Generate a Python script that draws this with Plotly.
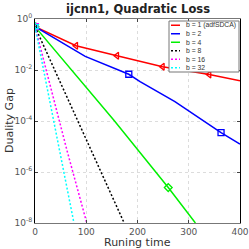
import plotly.graph_objects as go

# ---- data (x = running time, y = duality gap) ----
x_b1 = [0, 80, 160, 249, 340, 400]
y_b1 = [0.5, 0.089, 0.036, 0.0135, 0.0066, 0.0038]
m_b1 = [1, 1, 1, 1, 1, 0]

x_b2 = [0, 49, 98, 183, 205, 273, 363, 400]
y_b2 = [0.5, 0.13, 0.034, 0.0068, 0.0035, 5.8e-4, 3.5e-5, 1.25e-5]
m_b2 = [1, 0, 0, 1, 0, 0, 1, 0]

x_b4 = [0, 154, 260, 313]
y_b4 = [0.5, 1.07e-4, 2.45e-7, 1e-8]
m_b4 = [1, 0, 1, 0]

x_b8 = [0, 109, 174]
y_b8 = [0.5, 7.5e-6, 1e-8]
m_b8 = [1, 0, 0]

x_b16 = [0, 62, 101]
y_b16 = [0.5, 7.5e-6, 1e-8]
m_b16 = [1, 0, 0]

x_b32 = [0, 47, 76]
y_b32 = [0.5, 7.5e-6, 1e-8]
m_b32 = [1, 0, 0]

names = ["b = 1 (adfSDCA)", "b = 2", "b = 4", "b = 8", "b = 16", "b = 32"]
x_ticks = [0, 100, 200, 300, 400]
y_tickvals = [1, 1e-2, 1e-4, 1e-6, 1e-8]
y_ticktext = ["10<sup>0</sup>", "10<sup>-2</sup>", "10<sup>-4</sup>", "10<sup>-6</sup>", "10<sup>-8</sup>"]

colors = ["#ff0000", "#0000ff", "#00f000", "#000000", "#ff00ff", "#00ffff"]
symbols = ["triangle-left-open", "square-open", "diamond-open",
           "triangle-left-open", "square-open", "hexagram-open"]
dashes = ["solid", "solid", "solid", "2px,2px", "2px,2px", "2px,2px"]
series = [(x_b1, y_b1, m_b1), (x_b2, y_b2, m_b2), (x_b4, y_b4, m_b4),
          (x_b8, y_b8, m_b8), (x_b16, y_b16, m_b16), (x_b32, y_b32, m_b32)]

# ---- layout constants (pixels) ----
W, H = 249, 249
ML, MR, MT, MB = 35, 9, 19, 26
PW, PH = W - ML - MR, H - MT - MB


def px_x(p):
    return (p - ML) / PW


def px_y(p):
    return (H - MB - p) / PH


fig = go.Figure()
for (xs, ys, ms), nm, col, sym, dash in zip(series, names, colors, symbols, dashes):
    mcols = [col if m else "rgba(0,0,0,0)" for m in ms]
    fig.add_trace(go.Scatter(
        x=xs, y=ys, name=nm, mode="lines+markers", showlegend=False,
        line=dict(color=col, width=1.5, dash=dash),
        marker=dict(symbol=sym, size=6, color=mcols, line=dict(width=1.3)),
    ))

# ---- custom compact legend (box, line samples, glyphs, labels) ----
LX0, LX1, LY0, LY1 = 169, 239, 21, 72
row_h = (LY1 - LY0) / len(names)
shapes = [dict(type="rect", xref="paper", yref="paper",
               x0=px_x(LX0), x1=px_x(LX1), y0=px_y(LY1), y1=px_y(LY0),
               fillcolor="white", line=dict(color="#777", width=1), layer="above")]
annotations = []
leg_mx, leg_my = [], []
for i, (nm, col, dash) in enumerate(zip(names, colors, dashes)):
    yc = LY0 + row_h * (i + 0.5)
    shapes.append(dict(type="line", xref="paper", yref="paper",
                       x0=px_x(171), x1=px_x(180), y0=px_y(yc), y1=px_y(yc),
                       line=dict(color=col, width=1.5, dash=dash), layer="above"))
    annotations.append(dict(xref="paper", yref="paper", x=px_x(184.5), y=px_y(yc),
                            text=nm, showarrow=False, xanchor="left", yanchor="middle",
                            borderpad=0,
                            font=dict(size=6.8, family="Liberation Sans", color="#333")))
    leg_mx.append(px_x(175.5))
    leg_my.append(px_y(yc))

fig.add_trace(go.Scatter(
    x=leg_mx, y=leg_my, xaxis="x2", yaxis="y2", mode="markers", showlegend=False,
    hoverinfo="skip",
    marker=dict(symbol=symbols, size=5, color=colors, line=dict(width=1.2)),
))

# axis titles and chart title
annotations.append(dict(xref="paper", yref="paper", x=px_x(137.5), y=px_y(242),
                        text="Runing time", showarrow=False, xanchor="center",
                        yanchor="middle", font=dict(size=11, color="#333")))
annotations.append(dict(xref="paper", yref="paper", x=px_x(9), y=0.5,
                        text="Duality Gap", showarrow=False, textangle=-90,
                        xanchor="center", yanchor="middle",
                        font=dict(size=11, color="#333")))
annotations.append(dict(xref="paper", yref="paper", x=px_x(138), y=px_y(9.5),
                        text="<b>ijcnn1, Quadratic Loss</b>", showarrow=False,
                        xanchor="center", yanchor="middle",
                        font=dict(size=11.5, color="#222")))

fig.update_layout(
    width=W, height=H,
    margin=dict(l=ML, r=MR, t=MT, b=MB, autoexpand=False),
    paper_bgcolor="white", plot_bgcolor="white",
    font=dict(family="DejaVu Sans", size=9, color="#333"),
    showlegend=False,
    shapes=shapes, annotations=annotations,
    xaxis2=dict(overlaying="x", range=[0, 1], visible=False, fixedrange=True),
    yaxis2=dict(overlaying="y", range=[0, 1], visible=False, fixedrange=True),
)
fig.update_layout(xaxis=dict(
    range=[0, 400], tickvals=x_ticks, ticks="inside", ticklen=3,
    showline=True, mirror="ticks", linecolor="#777", linewidth=1,
    showgrid=True, gridcolor="#dcdcdc", griddash="dot", gridwidth=1, zeroline=False,
    tickfont=dict(size=9, color="#555"), automargin=False,
))
fig.update_layout(yaxis=dict(
    type="log", range=[-8, 0], tickvals=y_tickvals, ticktext=y_ticktext,
    ticks="inside", ticklen=3,
    showline=True, mirror="ticks", linecolor="#000", linewidth=1,
    showgrid=True, gridcolor="#dcdcdc", griddash="dot", gridwidth=1, zeroline=False,
    tickfont=dict(size=9, color="#555"), automargin=False,
))

fig.write_html("out.html", config={"displayModeBar": False},
               post_script="document.body.style.margin='0';")
